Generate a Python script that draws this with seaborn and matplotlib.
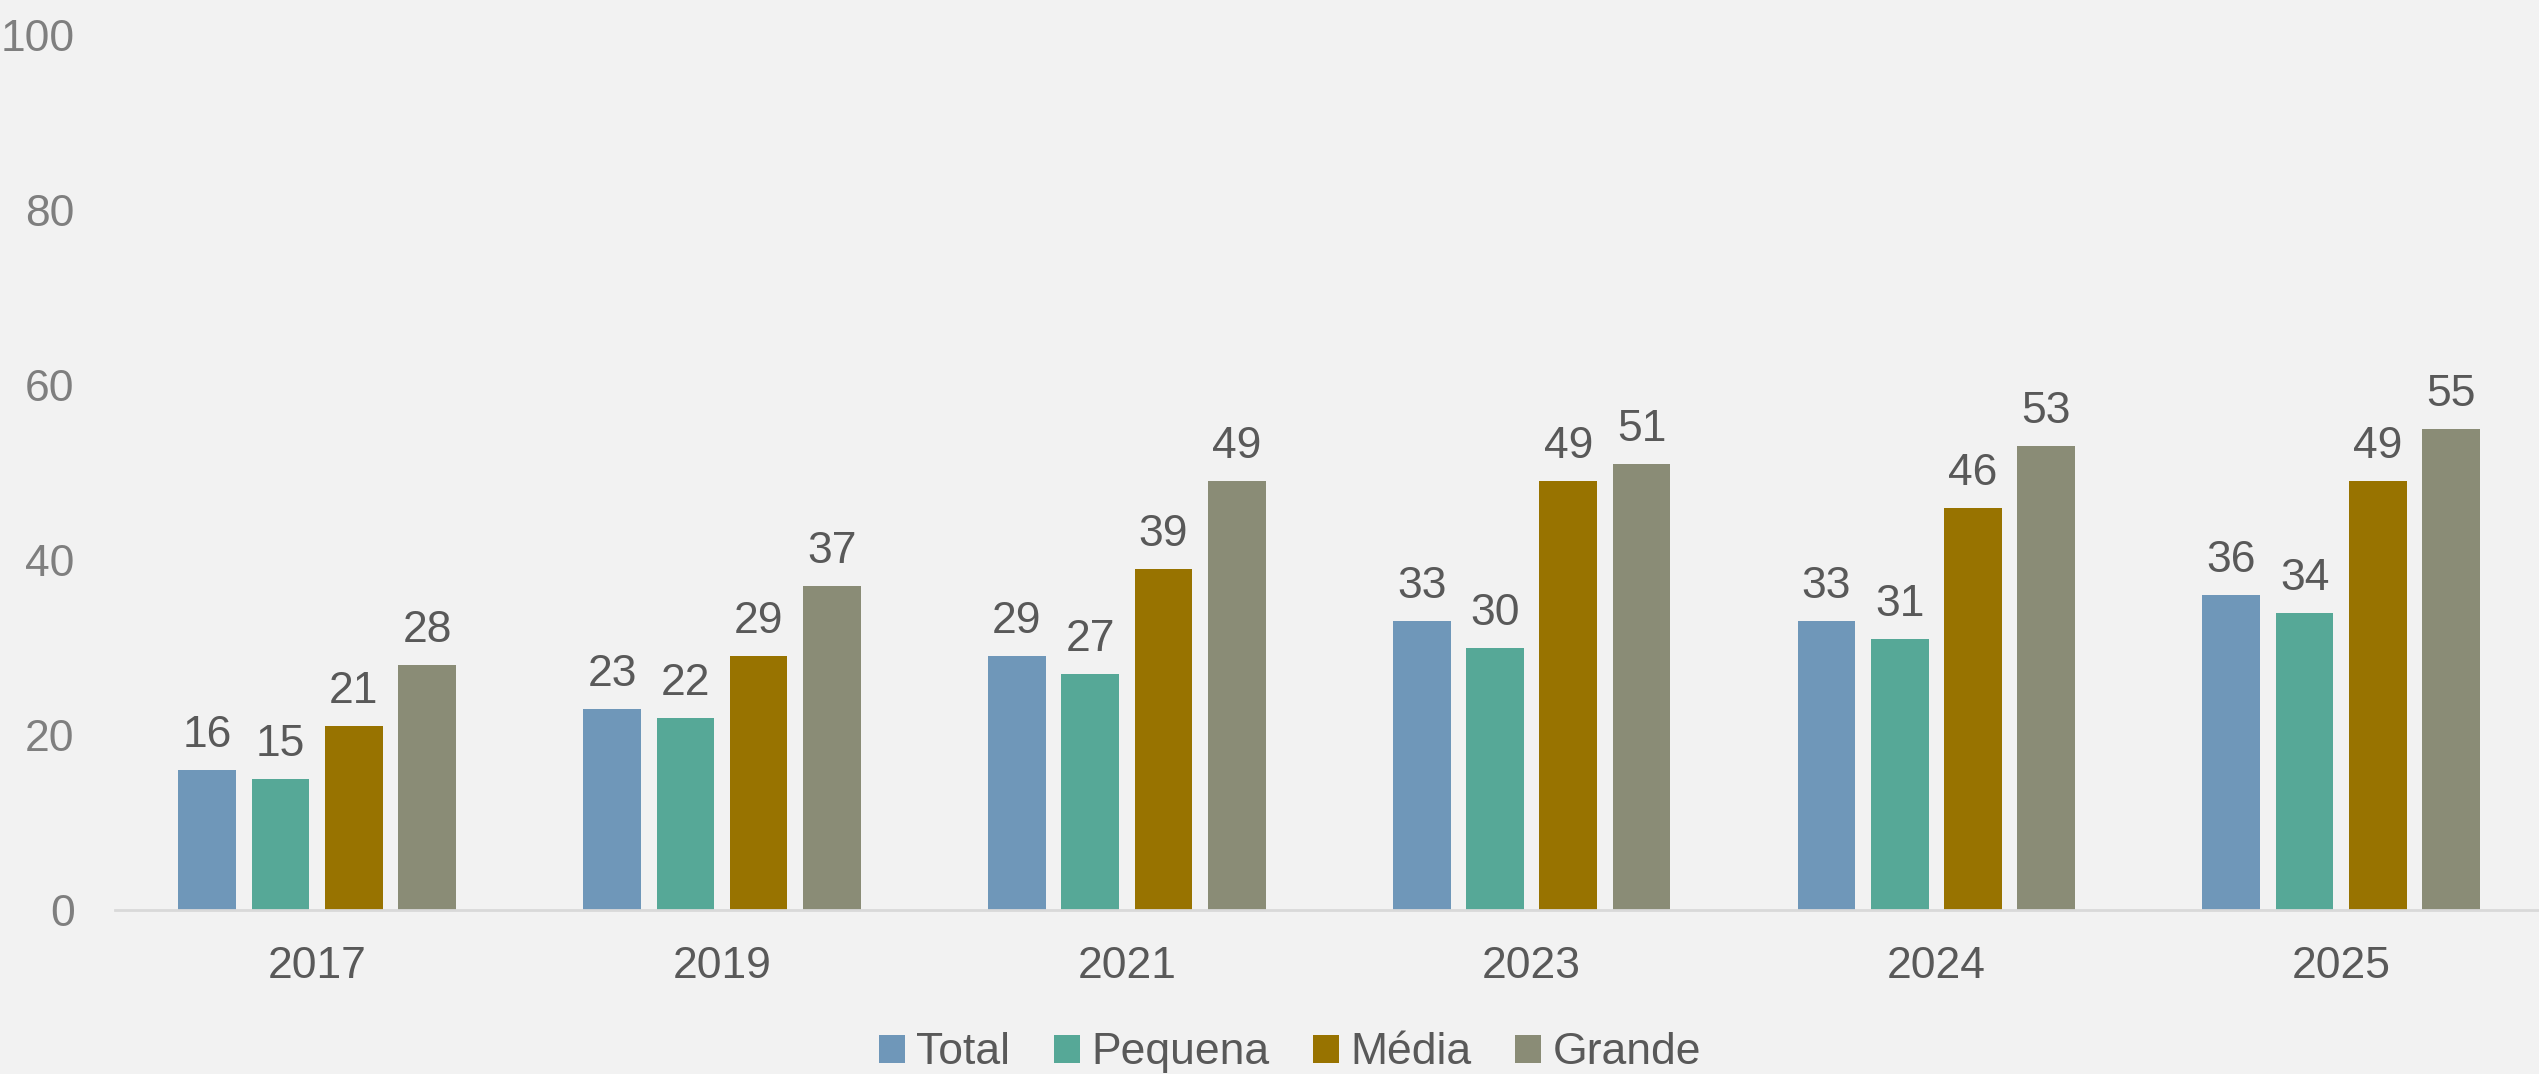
import matplotlib
matplotlib.use("Agg")
import matplotlib.pyplot as plt
import seaborn as sns
import pandas as pd

# Survey share by company size, per year
years = ["2017", "2019", "2021", "2023", "2024", "2025"]
series_names = ["Total", "Pequena", "Média", "Grande"]
total = [16, 23, 29, 33, 33, 36]
pequena = [15, 22, 27, 30, 31, 34]
media = [21, 29, 39, 49, 46, 49]
grande = [28, 37, 49, 51, 53, 55]
y_ticks = [0, 20, 40, 60, 80, 100]

colors = ["#6F97B9", "#56A897", "#987300", "#8A8C76"]
bg = "#F2F2F2"
text_dark = "#595959"
text_grey = "#7F7F7F"

df = pd.DataFrame({
    "Ano": years * 4,
    "Porte": [s for s in series_names for _ in years],
    "Valor": total + pequena + media + grande,
})

sns.set_theme(style="white")
plt.rcParams["font.family"] = ["Liberation Sans", "DejaVu Sans"]

fig = plt.figure(figsize=(25.39, 10.74), dpi=100, facecolor=bg)
ax = fig.add_axes([0.04521, 0.1527, 0.9566, 0.8147])
ax.set_facecolor(bg)

sns.barplot(data=df, x="Ano", y="Valor", hue="Porte", order=years,
            hue_order=series_names, palette=colors, width=0.724, gap=0.213,
            saturation=1, linewidth=0, ax=ax, legend=True)

ax.set_ylim(0, 100)
ax.set_xlim(-0.5, 5.5)
ax.set_yticks(y_ticks)
ax.set_yticklabels([str(t) for t in y_ticks])
ax.set_xlabel("")
ax.set_ylabel("")

for c in ax.containers:
    ax.bar_label(c, fmt="%d", padding=10, fontsize=32, color=text_dark)

for side in ["top", "right", "left"]:
    ax.spines[side].set_visible(False)
ax.spines["bottom"].set_color("#D9D9D9")
ax.spines["bottom"].set_linewidth(2)

ax.tick_params(axis="x", length=0, pad=26, labelsize=32, labelcolor=text_dark)
ax.tick_params(axis="y", length=0, pad=29, labelsize=32, labelcolor=text_grey)
ax.grid(False)

handles, labels = ax.get_legend_handles_labels()
ax.get_legend().remove()
fig.legend(handles, labels, loc="center", bbox_to_anchor=(0.508, 0.0196),
           ncol=4, frameon=False, fontsize=32, labelcolor=text_dark,
           handlelength=0.6, handleheight=0.6, handletextpad=0.25,
           columnspacing=0.97, borderpad=0)

fig.savefig("out.png", dpi=100, facecolor=bg)
